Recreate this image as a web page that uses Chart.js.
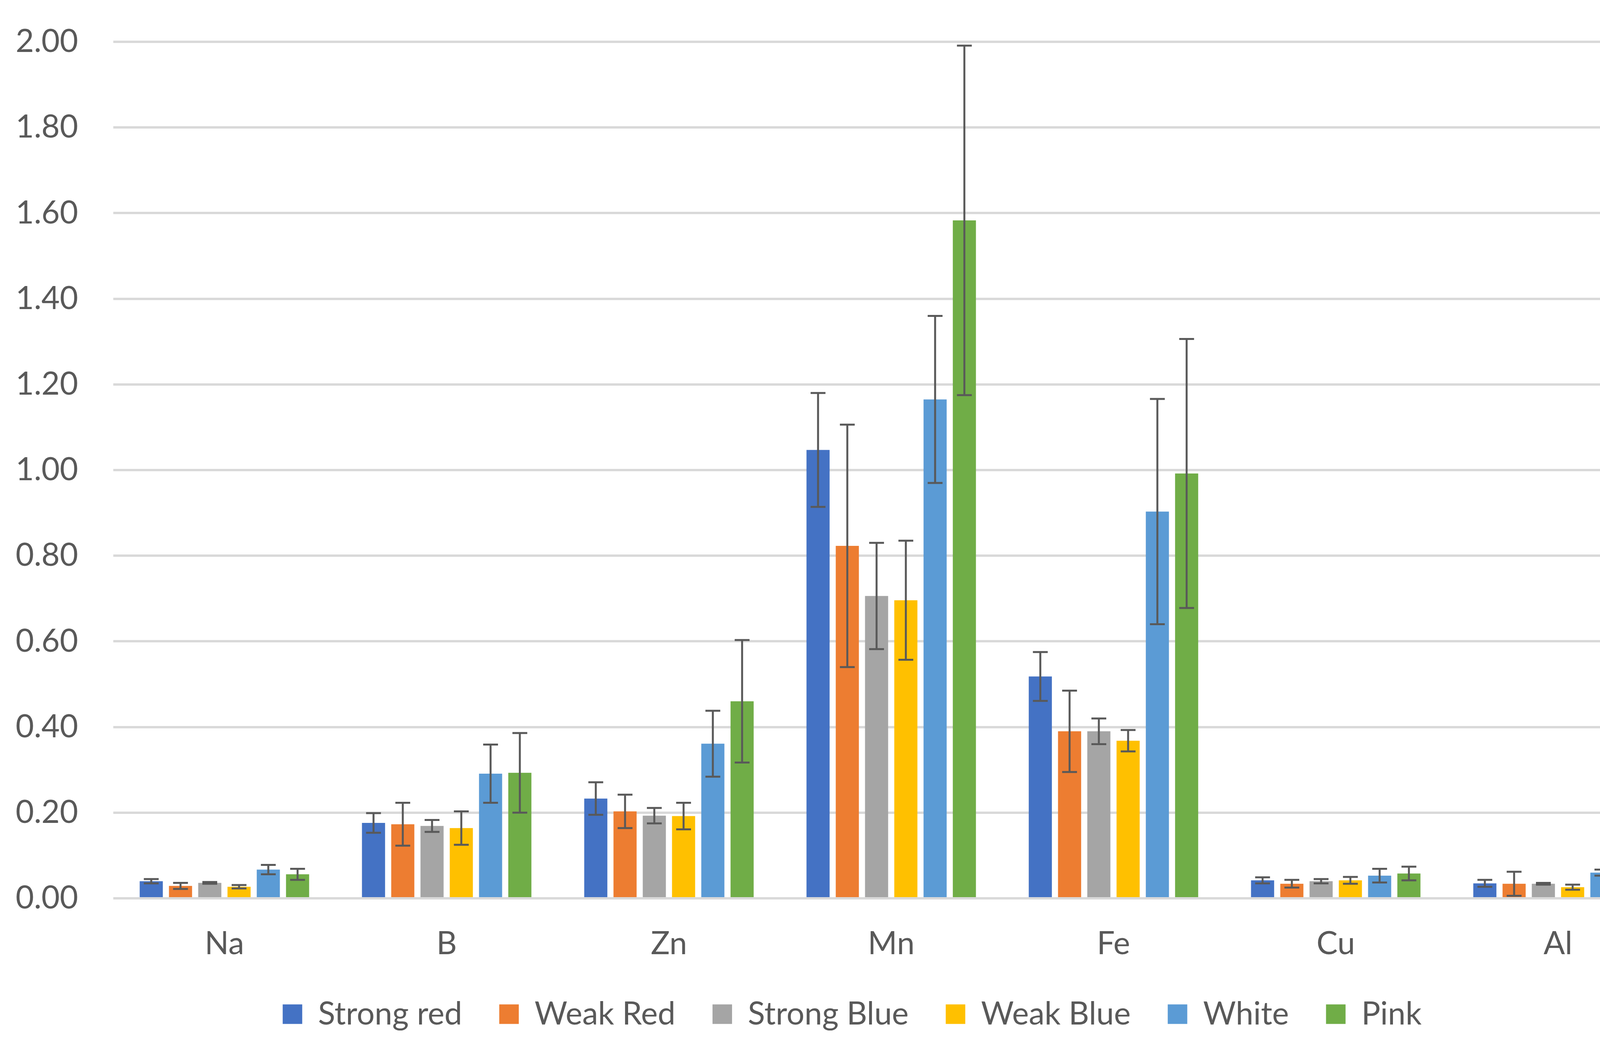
<!DOCTYPE html>
<html>
<head>
<meta charset="utf-8">
<script src="https://cdn.jsdelivr.net/npm/chart.js@4"></script>
<style>
  html, body { margin: 0; padding: 0; background: #fff; overflow: hidden; }
  canvas { display: block; }
</style>
</head>
<body>
<canvas id="chart" width="4307" height="2700" style="width:4307px;height:2700px"></canvas>
<script>
// categories and tick labels
const elements = ["Na", "B", "Zn", "Mn", "Fe", "Cu", "Al"];
const seriesNames = ["Strong red", "Weak Red", "Strong Blue", "Weak Blue", "White", "Pink"];
const yTicks = [0, 0.2, 0.4, 0.6, 0.8, 1.0, 1.2, 1.4, 1.6, 1.8, 2.0];

// mean values per series (Na, B, Zn, Mn, Fe, Cu, Al)
const strongRed  = [0.040, 0.176, 0.233, 1.047, 0.518, 0.042, 0.035];
const weakRed    = [0.029, 0.173, 0.203, 0.823, 0.390, 0.034, 0.034];
const strongBlue = [0.036, 0.169, 0.193, 0.706, 0.390, 0.040, 0.034];
const weakBlue   = [0.027, 0.164, 0.192, 0.696, 0.368, 0.042, 0.026];
const white      = [0.067, 0.291, 0.361, 1.165, 0.903, 0.053, 0.060];
const pink       = [0.056, 0.293, 0.460, 1.583, 0.992, 0.058, 0.076];

// error bar half-lengths per series
const strongRedErr  = [0.005, 0.023, 0.038, 0.133, 0.057, 0.007, 0.008];
const weakRedErr    = [0.007, 0.050, 0.039, 0.283, 0.095, 0.009, 0.028];
const strongBlueErr = [0.002, 0.014, 0.018, 0.124, 0.030, 0.005, 0.002];
const weakBlueErr   = [0.004, 0.039, 0.031, 0.139, 0.025, 0.008, 0.006];
const whiteErr      = [0.011, 0.068, 0.077, 0.195, 0.263, 0.016, 0.007];
const pinkErr       = [0.013, 0.093, 0.143, 0.408, 0.314, 0.016, 0.033];

const values = [strongRed, weakRed, strongBlue, weakBlue, white, pink];
const errors = [strongRedErr, weakRedErr, strongBlueErr, weakBlueErr, whiteErr, pinkErr];
const colors = ["#4472C4", "#ED7D31", "#A5A5A5", "#FFC000", "#5B9BD5", "#70AD47"];

const FONT = "Lato, 'Open Sans', sans-serif";
const TEXT = "#595959";
const SIZE = 81;

// draws the +/- error bars on top of each bar using the y scale
const errorBars = {
  id: "errorBars",
  afterDatasetsDraw(chart) {
    const ctx = chart.ctx;
    const y = chart.scales.y;
    ctx.save();
    ctx.strokeStyle = "#595959";
    ctx.lineWidth = 5;
    chart.data.datasets.forEach((ds, i) => {
      const meta = chart.getDatasetMeta(i);
      meta.data.forEach((bar, j) => {
        const v = ds.data[j];
        const e = ds.errors[j];
        const top = y.getPixelForValue(v + e);
        const bot = y.getPixelForValue(v - e);
        const half = 19;
        ctx.beginPath();
        ctx.moveTo(bar.x, top);
        ctx.lineTo(bar.x, bot);
        ctx.moveTo(bar.x - half, top);
        ctx.lineTo(bar.x + half, top);
        ctx.moveTo(bar.x - half, bot);
        ctx.lineTo(bar.x + half, bot);
        ctx.stroke();
      });
    });
    ctx.restore();
  }
};

// nudge the legend a little right, like the original
const legendShift = {
  id: "legendShift",
  afterLayout(chart) {
    chart.legend.left += 45;
    chart.legend.right += 45;
  }
};

new Chart(document.getElementById("chart"), {
  type: "bar",
  data: {
    labels: elements,
    datasets: seriesNames.map((name, i) => ({
      label: name,
      data: values[i],
      errors: errors[i],
      backgroundColor: colors[i],
      borderWidth: 0,
      barPercentage: 0.79,
      categoryPercentage: 0.79
    }))
  },
  options: {
    responsive: false,
    animation: false,
    devicePixelRatio: 1,
    layout: { padding: { left: 0, right: 34, top: 107, bottom: 54 } },
    plugins: {
      tooltip: { enabled: false },
      legend: {
        position: "bottom",
        labels: {
          color: TEXT,
          font: { family: FONT, size: SIZE },
          boxWidth: 50,
          boxHeight: 50,
          padding: 95
        }
      }
    },
    scales: {
      x: {
        grid: { display: false },
        border: { display: false },
        afterFit(axis) { axis.height = 161; },
        ticks: {
          color: TEXT,
          font: { family: FONT, size: SIZE },
          padding: 60
        }
      },
      y: {
        min: 0,
        max: 2,
        afterFit(axis) {
          axis.width = 290;
          axis.paddingTop = 0;
          axis.paddingBottom = 0;
        },
        afterBuildTicks(axis) {
          axis.ticks = yTicks.map(v => ({ value: v }));
        },
        grid: { color: "#d9d9d9", lineWidth: 6, drawTicks: false },
        border: { display: false },
        ticks: {
          color: TEXT,
          font: { family: FONT, size: SIZE },
          padding: 90,
          callback: v => Number(v).toFixed(2)
        }
      }
    }
  },
  plugins: [errorBars, legendShift]
});
</script>
</body>
</html>
